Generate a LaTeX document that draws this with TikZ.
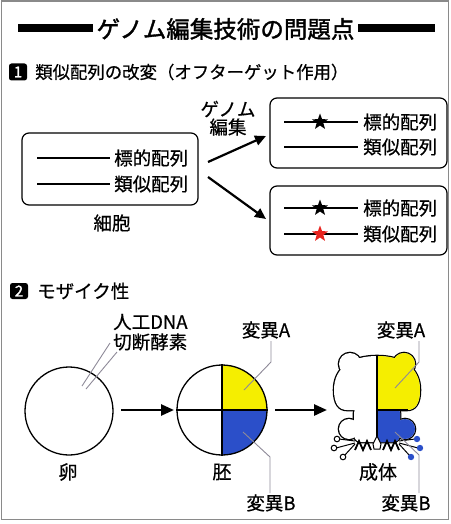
\documentclass[tikz,border=0pt]{standalone}
\usepackage{fontspec}
\newfontfamily\jp[FakeBold=0.6]{Noto Sans CJK JP}
\newfontfamily\jptitle[FakeBold=1.6]{Noto Sans CJK JP}
\usetikzlibrary{arrows.meta,shapes.geometric}

\definecolor{mutA}{HTML}{F5EE00}
\definecolor{mutB}{HTML}{2B4FC9}
\definecolor{hitred}{HTML}{E8231E}
\definecolor{leadgray}{HTML}{8E8A98}
\definecolor{framegray}{HTML}{8A8A8A}

% frog silhouette pieces (local coordinates, origin at the neck)
\newcommand{\fghead}{(0,-54) .. controls (26,-54) and (43,-42) .. (43,-20) .. controls (43,-6) and (38,0) .. (30,0) -- (-30,0) .. controls (-38,0) and (-43,-6) .. (-43,-20) .. controls (-43,-42) and (-26,-54) .. (0,-54) -- cycle}
\newcommand{\fgearL}{(-27,-46) circle[radius=11]}
\newcommand{\fgearR}{(27,-46) circle[radius=11]}
\newcommand{\fgbody}{[rounded corners=7pt] (-23,-4) rectangle (23,32)}
\newcommand{\fglegL}{(-28,19) circle[radius=10]}
\newcommand{\fglegR}{(28,19) circle[radius=10]}

\begin{document}
\begin{tikzpicture}[x=1pt,y=-1pt,
  txt/.style={font=\jp\fontsize{18.5}{20}\selectfont, inner sep=0pt},
  hdtxt/.style={font=\jp\fontsize{17.4}{20}\selectfont, inner sep=0pt},
  bigtxt/.style={font=\jp\fontsize{19}{21}\selectfont, inner sep=0pt},
  badge/.style={fill=black, rounded corners=2.5pt, minimum width=18pt, minimum height=17pt,
                inner sep=0pt, text=white, font=\jptitle\fontsize{15}{15}\selectfont},
  seqbox/.style={draw, rounded corners=7pt, line width=1.2pt, inner sep=0pt},
  seqline/.style={line width=1.2pt},
  starmark/.style={star, star points=5, star point ratio=2.4, minimum size=17pt, inner sep=0pt, fill=#1},
  editarrow/.style={line width=2.2pt, -{Triangle[length=11pt,width=10pt]}},
  steparrow/.style={line width=2.6pt, -{Triangle[length=13pt,width=11pt]}},
  leader/.style={draw=leadgray, line width=0.9pt},
  ovum/.style={circle, draw, line width=1.3pt, inner sep=0pt, minimum size=#1},
]
\useasboundingbox (0,0) rectangle (450,524);
\draw[framegray, line width=1.2pt] (1.5,1) rectangle (448.5,519.5);

% ---- title ----
\node[font=\jptitle\fontsize{23.5}{26}\selectfont, inner sep=0pt] (title) at (225.5,29) {ゲノム編集技術の問題点};
\fill (18,24) rectangle (93,32);
\fill (358,24) rectangle (435,32);

% ---- part 1 ----
\node[badge] (b1) at (18,72) {1};
\node[hdtxt, anchor=west] (h1) at (35,72) {類似配列の改変（オフターゲット作用）};

% cell before editing
\node[seqbox, minimum width=176pt, minimum height=72pt] (cell) at (110,169) {};
\coordinate (c1s) at (37,158);  \coordinate (c1e) at (110,158);
\coordinate (c2s) at (37,184);  \coordinate (c2e) at (110,184);
\draw[seqline] (c1s) -- (c1e);
\draw[seqline] (c2s) -- (c2e);
\node[txt, anchor=west] (c1t) at (114,158) {標的配列};
\node[txt, anchor=west] (c2t) at (114,184) {類似配列};
\node[txt] (celltxt) at (112,223) {細胞};

% genome editing arrows
\node[txt] (ge1) at (228,109) {ゲノム};
\node[txt] (ge2) at (228,127) {編集};
\coordinate (a1s) at (208,162); \coordinate (a1e) at (266,136);
\coordinate (a2s) at (208,177); \coordinate (a2e) at (266,219);
\draw[editarrow] (a1s) -- (a1e);
\draw[editarrow] (a2s) -- (a2e);

% outcome: target only
\node[seqbox, minimum width=177pt, minimum height=70pt] (resA) at (358.5,133) {};
\coordinate (r1s) at (284,122); \coordinate (r1e) at (358,122);
\coordinate (r2s) at (284,147); \coordinate (r2e) at (358,147);
\draw[seqline] (r1s) -- (r1e);
\draw[seqline] (r2s) -- (r2e);
\node[starmark=black] (sA) at (320,122) {};
\node[txt, anchor=west] (r1t) at (363,122) {標的配列};
\node[txt, anchor=west] (r2t) at (363,147) {類似配列};

% outcome: target and look-alike both cut
\node[seqbox, minimum width=177pt, minimum height=69pt] (resB) at (358.5,220.5) {};
\coordinate (q1s) at (284,208); \coordinate (q1e) at (358,208);
\coordinate (q2s) at (284,234); \coordinate (q2e) at (358,234);
\draw[seqline] (q1s) -- (q1e);
\draw[seqline] (q2s) -- (q2e);
\node[starmark=black] (sB1) at (320,208) {};
\node[starmark=hitred] (sB2) at (320,234) {};
\node[txt, anchor=west] (q1t) at (363,208) {標的配列};
\node[txt, anchor=west] (q2t) at (363,234) {類似配列};

% ---- part 2 ----
\node[badge, minimum height=16pt] (b2) at (19,291) {2};
\node[txt, anchor=west] (h2) at (37,291) {モザイク性};

% egg
\node[ovum=88pt] (egg) at (69,411) {};
\node[txt, anchor=west] (dna1) at (113,322) {人工DNA};
\node[txt, anchor=west] (dna2) at (113,342) {切断酵素};
\coordinate (p1s) at (110,343); \coordinate (p1e) at (82,386);
\coordinate (p2s) at (117,352); \coordinate (p2e) at (86,389);
\draw[leader] (p1s) -- (p1e);
\draw[leader] (p2s) -- (p2e);
\node[bigtxt] (eggtxt) at (68,472) {卵};

\coordinate (s1s) at (121,410); \coordinate (s1e) at (174,410);
\draw[steparrow] (s1s) -- (s1e);

% embryo with two mutant quarters
\coordinate (embc) at (222,410);
\fill[mutA] (embc) -- ++(45,0) arc[start angle=0, end angle=-90, radius=45] -- cycle;
\fill[mutB] (embc) -- ++(45,0) arc[start angle=0, end angle=90, radius=45] -- cycle;
\node[ovum=90pt] (emb) at (embc) {};
\draw[line width=1.3pt] (emb.north) -- (emb.south);
\draw[line width=1.3pt] (emb.west) -- (emb.east);
\node[bigtxt] (embtxt) at (222,472) {胚};
\node[txt] (embA) at (266,330) {変異A};
\node[txt] (embB) at (271,503) {変異B};
\coordinate (eA1) at (271,341); \coordinate (eA2) at (271,362); \coordinate (eA3) at (244,390);
\coordinate (eB1) at (243,432); \coordinate (eB2) at (270,457); \coordinate (eB3) at (270,493);
\draw[leader] (eA1) -- (eA2) -- (eA3);
\draw[leader] (eB1) -- (eB2) -- (eB3);

\coordinate (s2s) at (275,410); \coordinate (s2e) at (327,410);
\draw[steparrow] (s2s) -- (s2e);

% adult frog
\begin{scope}[shift={(377,410)}]
  % outline pass (outer half of each stroke survives)
  \draw[line width=2.6pt] \fghead;
  \draw[line width=2.6pt] \fgearL;
  \draw[line width=2.6pt] \fgearR;
  \draw[line width=2.6pt] \fgbody;
  \draw[line width=2.6pt] \fglegL;
  \draw[line width=2.6pt] \fglegR;
  % feet
  \draw[line width=1pt] (-22,31) -- (-38,29);
  \draw[line width=1pt] (-22,33) -- (-41,38);
  \draw[line width=1pt] (-22,34) -- (-33,46);
  \draw[line width=1pt] (22,31) -- (38,29);
  \draw[line width=1pt] (22,33) -- (41,38);
  \draw[line width=1pt] (22,34) -- (33,46);
  % white fill of the whole animal
  \fill[white] \fghead;
  \fill[white] \fgearL;
  \fill[white] \fgearR;
  \fill[white] \fgbody;
  \fill[white] \fglegL;
  \fill[white] \fglegR;
  % mutant halves
  \begin{scope}
    \clip (0,-70) rectangle (60,0);
    \fill[mutA] \fghead;
    \fill[mutA] \fgearR;
  \end{scope}
  \begin{scope}
    \clip (0,0) rectangle (60,50);
    \fill[mutB] \fgbody;
    \fill[mutB] \fglegR;
  \end{scope}
  \draw[line width=1.3pt] (0,-54) -- (0,32);
  \draw[line width=1.3pt] (0,0) -- (31,0);
  % toe pads
  \draw[line width=1pt, fill=white] (-40,29) circle[radius=2.8];
  \draw[line width=1pt, fill=white] (-43,38) circle[radius=2.8];
  \draw[line width=1pt, fill=white] (-34,47) circle[radius=2.8];
  \fill[mutB] (40,29) circle[radius=3.2];
  \fill[mutB] (43,38) circle[radius=3.2];
  \fill[mutB] (34,47) circle[radius=3.2];
  % claws along the bottom
  \draw[line width=1.8pt, line join=miter] (-22,40) -- (-18,31) -- (-14,40) -- (-10,31) -- (-6,40);
  \draw[line width=1.8pt, line join=miter] (6,40) -- (10,31) -- (14,40) -- (18,31) -- (22,40);
  \draw[line width=1pt, fill=white] (0,26) -- (-4,34) -- (-3,39) -- (3,39) -- (4,34) -- cycle;
\end{scope}
\node[bigtxt] (adulttxt) at (378,472) {成体};
\node[txt] (adA) at (401,330) {変異A};
\node[txt] (adB) at (406,503) {変異B};
\coordinate (fA1) at (419,341); \coordinate (fA2) at (419,362); \coordinate (fA3) at (395,388);
\coordinate (fB1) at (395,432); \coordinate (fB2) at (419,455); \coordinate (fB3) at (419,493);
\draw[leader] (fA1) -- (fA2) -- (fA3);
\draw[leader] (fB1) -- (fB2) -- (fB3);
\end{tikzpicture}
\end{document}
